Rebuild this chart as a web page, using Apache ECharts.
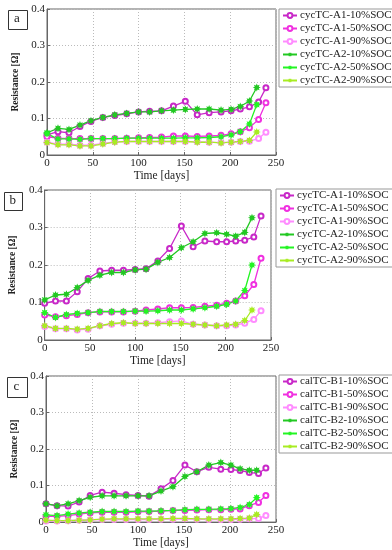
<!DOCTYPE html>
<html><head><meta charset="utf-8">
<script src="https://cdn.jsdelivr.net/npm/echarts@6/dist/echarts.min.js"></script>
<style>html,body{margin:0;padding:0;background:#fff}#c{width:392px;height:550px}</style>
</head><body><div id="c"></div>
<script>
// ---- data ----
const daysLong = [0,12,24,36,48,61,74,87,100,112,125,138,151,164,177,190,201,211,221,231,239];
const daysShort = [0,12,24,36,48,61,74,87,100,112,125,138,151,164,177,190,201,211,221,229];

const namesA = ['cycTC-A1-10%SOC','cycTC-A1-50%SOC','cycTC-A1-90%SOC','cycTC-A2-10%SOC','cycTC-A2-50%SOC','cycTC-A2-90%SOC'];
const namesC = ['calTC-B1-10%SOC','calTC-B1-50%SOC','calTC-B1-90%SOC','calTC-B2-10%SOC','calTC-B2-50%SOC','calTC-B2-90%SOC'];

// panel a
const a_A1_10 = [0.055,0.064,0.061,0.078,0.092,0.103,0.108,0.113,0.118,0.120,0.121,0.134,0.147,0.110,0.116,0.118,0.121,0.126,0.132,0.145,0.184];
const a_A1_50 = [0.050,0.046,0.045,0.045,0.045,0.045,0.045,0.046,0.047,0.048,0.049,0.052,0.052,0.051,0.052,0.054,0.058,0.064,0.075,0.097,0.143];
const a_A1_90 = [0.035,0.030,0.030,0.027,0.027,0.032,0.036,0.037,0.037,0.037,0.037,0.037,0.037,0.036,0.035,0.034,0.035,0.037,0.038,0.045,0.062];
const a_A2_10 = [0.061,0.073,0.070,0.082,0.094,0.103,0.110,0.114,0.118,0.118,0.121,0.123,0.125,0.126,0.126,0.123,0.125,0.133,0.148,0.185];
const a_A2_50 = [0.058,0.044,0.044,0.043,0.045,0.045,0.045,0.046,0.046,0.046,0.046,0.046,0.047,0.047,0.048,0.050,0.055,0.064,0.085,0.138];
const a_A2_90 = [0.034,0.028,0.028,0.025,0.025,0.030,0.035,0.037,0.037,0.037,0.037,0.037,0.037,0.035,0.035,0.033,0.035,0.037,0.040,0.063];
// panel b
const b_A1_10 = [0.098,0.104,0.104,0.129,0.164,0.184,0.186,0.186,0.188,0.190,0.211,0.244,0.304,0.249,0.264,0.262,0.262,0.264,0.266,0.275,0.331];
const b_A1_50 = [0.067,0.062,0.065,0.068,0.073,0.075,0.075,0.075,0.077,0.080,0.083,0.086,0.086,0.087,0.090,0.093,0.098,0.104,0.118,0.148,0.218];
const b_A1_90 = [0.036,0.030,0.030,0.027,0.029,0.038,0.042,0.045,0.045,0.045,0.046,0.049,0.051,0.042,0.040,0.038,0.038,0.040,0.045,0.055,0.078];
const b_A2_10 = [0.107,0.120,0.122,0.140,0.159,0.173,0.180,0.180,0.187,0.189,0.207,0.220,0.246,0.262,0.284,0.286,0.282,0.277,0.287,0.326];
const b_A2_50 = [0.073,0.060,0.068,0.071,0.073,0.076,0.076,0.076,0.077,0.077,0.078,0.080,0.080,0.083,0.086,0.090,0.095,0.104,0.132,0.200];
const b_A2_90 = [0.038,0.031,0.031,0.029,0.031,0.038,0.044,0.046,0.044,0.044,0.044,0.044,0.044,0.042,0.040,0.038,0.040,0.042,0.052,0.080];
// panel c
const c_B1_10 = [0.050,0.045,0.044,0.055,0.073,0.082,0.079,0.075,0.073,0.071,0.091,0.114,0.156,0.138,0.150,0.145,0.144,0.141,0.136,0.133,0.148];
const c_B1_50 = [0.016,0.016,0.018,0.022,0.025,0.027,0.027,0.027,0.028,0.029,0.030,0.032,0.032,0.033,0.034,0.034,0.035,0.036,0.045,0.054,0.073];
const c_B1_90 = [0.003,0.003,0.004,0.005,0.006,0.007,0.007,0.007,0.007,0.007,0.008,0.008,0.009,0.008,0.007,0.007,0.007,0.008,0.009,0.010,0.018];
const c_B2_10 = [0.050,0.045,0.050,0.059,0.068,0.072,0.072,0.072,0.072,0.072,0.085,0.097,0.125,0.138,0.156,0.163,0.156,0.146,0.142,0.142];
const c_B2_50 = [0.020,0.018,0.022,0.025,0.027,0.029,0.029,0.029,0.030,0.030,0.031,0.032,0.034,0.035,0.035,0.036,0.037,0.040,0.048,0.067];
const c_B2_90 = [0.005,0.004,0.004,0.005,0.006,0.008,0.009,0.009,0.009,0.009,0.009,0.010,0.010,0.009,0.009,0.009,0.009,0.010,0.011,0.021];

const xTicks = [0,50,100,150,200,250];
const yTicks = [0,0.1,0.2,0.3,0.4];

// ---- styling ----
const colors = ['#c828c8','#f030e0','#ff8cff','#22c822','#22f522','#a8ec22'];
const star = 'path://M20,10L15.08,12.1L17.07,17.07L12.1,15.08L10,20L7.9,15.08L2.93,17.07L4.92,12.1L0,10L4.92,7.9L2.93,2.93L7.9,4.92L10,0L12.1,4.92L17.07,2.93L15.08,7.9Z';
const serif = '"Liberation Serif","Times New Roman",serif';

const panels = [
  {grid:{left:47,top:9,width:229,height:146}, legend:{left:279,top:9}, names:namesA,
   vals:[a_A1_10,a_A1_50,a_A1_90,a_A2_10,a_A2_50,a_A2_90], nameGapY:22},
  {grid:{left:41,top:190,width:230,height:150}, legend:{left:276,top:189}, names:namesA,
   vals:[b_A1_10,b_A1_50,b_A1_90,b_A2_10,b_A2_50,b_A2_90], nameGapY:22},
  {grid:{left:46,top:376,width:230,height:147}, legend:{left:279,top:375}, names:namesC,
   vals:[c_B1_10,c_B1_50,c_B1_90,c_B2_10,c_B2_50,c_B2_90], nameGapY:22}
];

const grids=[], xAxes=[], yAxes=[], legends=[], series=[];
panels.forEach((p,i)=>{
  grids.push(Object.assign({show:true,borderColor:'#666',borderWidth:1,backgroundColor:'#fff'},p.grid));
  xAxes.push({type:'value',gridIndex:i,min:xTicks[0],max:xTicks[xTicks.length-1],interval:50,
    name:'Time [days]',nameLocation:'middle',nameGap:13,
    nameTextStyle:{fontFamily:serif,fontSize:11.5,color:'#222'},
    axisLine:{show:true,onZero:false,lineStyle:{color:'#666'}},
    axisTick:{show:true,inside:true,length:3,lineStyle:{color:'#666'}},
    axisLabel:{fontFamily:serif,fontSize:11,color:'#222',margin:3},
    splitLine:{show:true,lineStyle:{color:'#bbb',type:[1,2],width:1}}});
  yAxes.push({type:'value',gridIndex:i,min:yTicks[0],max:yTicks[yTicks.length-1],interval:0.1,
    name:'Resistance [\u03A9]',nameLocation:'middle',nameGap:p.nameGapY,
    nameTextStyle:{fontFamily:serif,fontSize:9.5,fontWeight:'bold',color:'#222'},
    axisLine:{show:true,lineStyle:{color:'#666'}},
    axisTick:{show:true,inside:true,length:3,lineStyle:{color:'#666'}},
    axisLabel:{fontFamily:serif,fontSize:11,color:'#222',margin:2},
    splitLine:{show:true,lineStyle:{color:'#bbb',type:[1,2],width:1}}});
  legends.push({orient:'vertical',left:p.legend.left,top:p.legend.top,
    data:p.names,itemWidth:14,itemHeight:6,itemGap:2,padding:[1,4,1,3],
    borderColor:'#999',borderWidth:1,backgroundColor:'#fff',selectedMode:false,
    textStyle:{fontFamily:serif,fontSize:11,color:'#222',padding:[0,0,0,-2]}});
  p.names.forEach((nm,k)=>{
    const days = k<3 ? daysLong : daysShort;
    const isCircle = k<3;
    series.push({type:'line',name:nm,xAxisIndex:i,yAxisIndex:i,
      data:p.vals[k].map((v,j)=>[days[j],v]),
      symbol:isCircle?'emptyCircle':star,symbolSize:isCircle?5:8,
      showAllSymbol:true,animation:false,
      lineStyle:{color:colors[k],width:1.3},
      itemStyle:{color:colors[k],borderColor:colors[k],borderWidth:isCircle?1.4:0}});
  });
});

const labels = [{t:'a',x:8,y:10,s:19},{t:'b',x:4,y:192,s:18},{t:'c',x:7,y:377,s:20}];
const graphic = [];
labels.forEach(l=>{
  graphic.push({type:'rect',left:l.x,top:l.y,shape:{width:l.s,height:l.s},
    style:{fill:'#fff',stroke:'#333',lineWidth:1},z:10});
  graphic.push({type:'text',left:l.x+l.s/2-3.5,top:l.y+l.s/2-7,
    style:{text:l.t,fontFamily:serif,fontSize:13,fill:'#222'},z:11});
});

const chart = echarts.init(document.getElementById('c'),null,{renderer:'canvas'});
chart.setOption({animation:false,backgroundColor:'#fff',grid:grids,xAxis:xAxes,yAxis:yAxes,
  legend:legends,series:series,graphic:graphic});
</script></body></html>
